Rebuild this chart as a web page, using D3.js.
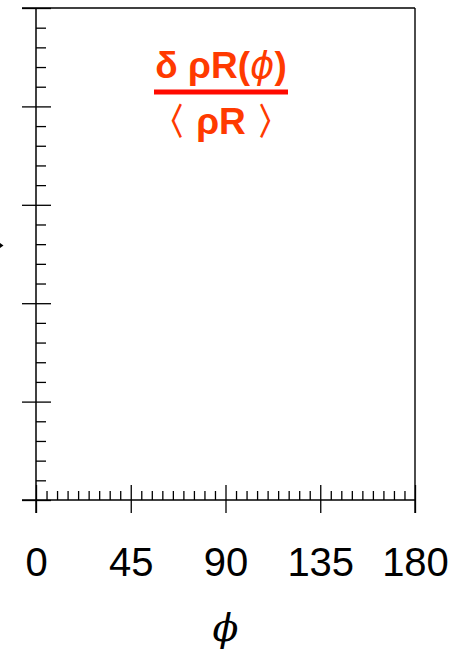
<!DOCTYPE html>
<html>
<head>
<meta charset="utf-8">
<script src="https://cdn.jsdelivr.net/npm/d3@7/dist/d3.min.js"></script>
<style>
  html, body { margin: 0; padding: 0; background: #fff; }
  svg { display: block; }
</style>
</head>
<body>
<svg id="chart" width="465" height="650"></svg>
<script>
// Azimuthal angle axis (degrees) and its tick labels
const xMajorTicks = [0, 45, 90, 135, 180];
const xTickLabels = ["0", "45", "90", "135", "180"];
const xMinorTicks = d3.range(0, 181, 5).filter(v => v % 45 !== 0);

// Vertical axis: unlabelled, five major divisions with five minor steps each
const yMajorTicks = [0, 0.2, 0.4, 0.6, 0.8, 1.0];
const yMinorTicks = d3.range(0, 1.0001, 0.04).filter(v => Math.abs(v / 0.2 - Math.round(v / 0.2)) > 1e-6);

// Ratio legend: numerator / denominator
const ratioTop = ["δ ρR(", "ϕ", ")"];
const ratioBottom = "〈 ρR 〉";
const axisTitle = "ϕ";

const svg = d3.select("#chart");
const plot = { left: 36, right: 415, top: 8, bottom: 500 };

const x = d3.scaleLinear().domain([0, 180]).range([plot.left, plot.right]);
const y = d3.scaleLinear().domain([0, 1]).range([plot.bottom, plot.top]);

const ink = "#000";

// Frame: top edge and right edge
svg.append("line")
  .attr("x1", plot.left - 14).attr("x2", plot.right)
  .attr("y1", plot.top).attr("y2", plot.top)
  .attr("stroke", ink).attr("stroke-width", 1.4);
svg.append("line")
  .attr("x1", plot.right).attr("x2", plot.right)
  .attr("y1", plot.top).attr("y2", plot.bottom + 13)
  .attr("stroke", ink).attr("stroke-width", 1.4);

function styleAxis(g) {
  g.select(".domain").remove();
  g.selectAll(".tick line").attr("stroke", ink).attr("stroke-width", 1.3);
}

// Left axis: major ticks reach outward and inward, minor ticks inward only
svg.append("g").attr("transform", `translate(${plot.left},0)`)
  .call(d3.axisLeft(y).tickValues(yMajorTicks).tickSize(14).tickFormat(""))
  .call(styleAxis);
svg.append("g").attr("transform", `translate(${plot.left},0)`)
  .call(d3.axisRight(y).tickValues(yMajorTicks).tickSize(15).tickFormat(""))
  .call(styleAxis);
svg.append("g").attr("transform", `translate(${plot.left},0)`)
  .call(d3.axisRight(y).tickValues(yMinorTicks).tickSize(10).tickFormat(""))
  .call(styleAxis);

// Bottom axis: labelled majors below, majors and minors rising into the plot
const xAxisBottom = svg.append("g").attr("transform", `translate(0,${plot.bottom})`)
  .call(d3.axisBottom(x).tickValues(xMajorTicks).tickSize(13).tickPadding(35)
    .tickFormat((d, i) => xTickLabels[i]))
  .call(styleAxis);
xAxisBottom.selectAll("text")
  .attr("fill", ink)
  .style("font-family", "'Liberation Sans', Arial, sans-serif")
  .style("font-size", "40px");
svg.append("g").attr("transform", `translate(0,${plot.bottom})`)
  .call(d3.axisTop(x).tickValues(xMajorTicks).tickSize(15).tickFormat(""))
  .call(styleAxis);
svg.append("g").attr("transform", `translate(0,${plot.bottom})`)
  .call(d3.axisTop(x).tickValues(xMinorTicks).tickSize(9).tickFormat(""))
  .call(styleAxis);

// Axis spines
svg.append("line")
  .attr("x1", plot.left).attr("x2", plot.left)
  .attr("y1", plot.top).attr("y2", plot.bottom + 13)
  .attr("stroke", ink).attr("stroke-width", 1.5);
svg.append("line")
  .attr("x1", plot.left - 14).attr("x2", plot.right)
  .attr("y1", plot.bottom).attr("y2", plot.bottom)
  .attr("stroke", ink).attr("stroke-width", 1.5);

// Horizontal axis title
svg.append("text")
  .attr("x", x(90)).attr("y", 641)
  .attr("text-anchor", "middle")
  .style("font-family", "'DejaVu Serif', serif")
  .style("font-style", "italic")
  .style("font-size", "38px")
  .attr("fill", ink)
  .text(axisTitle);

// Tip of the vertical axis title poking in at the left edge
svg.append("path")
  .attr("d", "M0,243 L3.5,245.5 L0,248 Z")
  .attr("fill", ink);

// Ratio legend in red
const red = "#ff3a00";
const cx = 221;
const num = svg.append("text")
  .attr("x", cx).attr("y", 78)
  .attr("text-anchor", "middle")
  .style("font-family", "'Liberation Sans', Arial, sans-serif")
  .style("font-size", "37px")
  .style("font-weight", "bold")
  .attr("fill", red);
num.append("tspan").text(ratioTop[0]);
num.append("tspan").style("font-style", "italic").style("font-weight", "normal")
  .style("font-family", "'DejaVu Sans', sans-serif").text(ratioTop[1]);
num.append("tspan").text(ratioTop[2]);

svg.append("line")
  .attr("x1", 154).attr("x2", 288)
  .attr("y1", 92).attr("y2", 92)
  .attr("stroke", "#ff0a00").attr("stroke-width", 5);

svg.append("text")
  .attr("x", cx).attr("y", 134)
  .attr("text-anchor", "middle")
  .style("font-family", "'Liberation Sans', Arial, sans-serif")
  .style("font-size", "37px")
  .style("font-weight", "bold")
  .attr("fill", red)
  .text(ratioBottom);
</script>
</body>
</html>
